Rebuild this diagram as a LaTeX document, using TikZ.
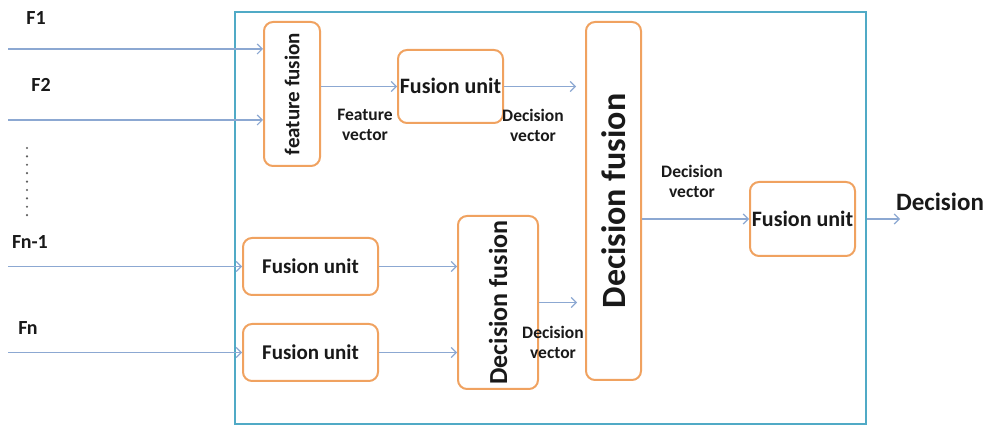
\documentclass[tikz,border=0pt]{standalone}
\usepackage{fontspec}
\setmainfont{Carlito}
\usetikzlibrary{arrows.meta}
\definecolor{boxorange}{RGB}{240,162,96}
\definecolor{frameblue}{RGB}{80,170,198}
\definecolor{linkblue}{RGB}{140,168,210}
\definecolor{ink}{RGB}{25,25,25}
\begin{document}
\begin{tikzpicture}[x=1pt,y=-1pt,
  unit/.style={draw=boxorange, line width=2pt, rounded corners=9pt, fill=white,
    text=ink, font=\bfseries\fontsize{22}{24}\selectfont, inner sep=0pt},
  link/.style={draw=linkblue, line width=1.2pt, -{Straight Barb[length=5pt,width=10pt]}},
  tag/.style={text=ink, font=\bfseries\fontsize{17.5}{20}\selectfont, align=center, inner sep=0pt},
  inlabel/.style={text=ink, font=\bfseries\fontsize{20}{22}\selectfont, inner sep=0pt}]
\useasboundingbox (0,0) rectangle (988,427);

% outer frame
\node[draw=frameblue, line width=2.5pt, minimum width=631pt, minimum height=412pt,
  inner sep=0pt] (frame) at (550.5,218) {};

% processing blocks
\node[unit, minimum width=56pt, minimum height=144pt] (ff) at (292,94)
  {\rotatebox{90}{\fontsize{21}{23}\selectfont feature fusion}};
\node[unit, minimum width=105pt, minimum height=73pt] (fu1) at (450.5,86.5)
  {\raisebox{2pt}{Fusion unit}};
\node[unit, minimum width=55pt, minimum height=358pt] (bigdf) at (613.5,201)
  {\rotatebox{90}{\fontsize{34}{36}\selectfont Decision fusion}};
\node[unit, minimum width=105pt, minimum height=74pt] (fu4) at (802.5,219) {Fusion unit};
\node[unit, minimum width=135pt, minimum height=57pt, font=\bfseries\fontsize{21}{23}\selectfont]
  (fu2) at (310.5,266.5) {Fusion unit};
\node[unit, minimum width=135pt, minimum height=57pt, font=\bfseries\fontsize{21}{23}\selectfont]
  (fu3) at (310.5,352.5) {Fusion unit};
\node[unit, minimum width=80pt, minimum height=173pt] (sdf) at (498,302.5)
  {\rotatebox{90}{\fontsize{26}{28}\selectfont Decision fusion}};

% inputs
\coordinate (in1) at (8,49);
\coordinate (in2) at (8,120);
\coordinate (in3) at (8,266.5);
\coordinate (in4) at (8,352.5);
\node[inlabel] (l1) at (36,18) {F1};
\node[inlabel] (l2) at (41,85) {F2};
\node[inlabel] (l3) at (30,242) {Fn-1};
\node[inlabel] (l4) at (28,328) {Fn};
\foreach \k in {0,...,8} \fill[ink!70] (27,148+8.4*\k) circle (1.2pt);

\draw[link] (in1) -- (ff.west |- in1);
\draw[link] (in2) -- (ff.west |- in2);
\draw[link] (in3) -- (fu2.west);
\draw[link] (in4) -- (fu3.west);

% connections
\draw[link] (ff.east |- fu1.west) -- (fu1.west);
\draw[link] (fu1.east) -- ([xshift=-9pt]bigdf.west |- fu1.east);
\draw[link] (fu2.east) -- (sdf.west |- fu2.east);
\draw[link] (fu3.east) -- (sdf.west |- fu3.east);
\draw[link] (sdf.east) -- ([xshift=-8pt]bigdf.west |- sdf.east);
\draw[link] (bigdf.east |- fu4.west) -- (fu4.west);
\coordinate (out) at (900,219);
\draw[link] (frame.east |- out) -- (out);

% labels
\node[tag] (t1) at (365,125) {Feature\\vector};
\node[tag] (t2) at (533,125) {Decision\\vector};
\node[tag] (t3) at (692,181) {Decision\\vector};
\node[tag] (t4) at (553,342) {Decision\\vector};
\node[text=ink, font=\bfseries\fontsize{25}{27}\selectfont, inner sep=0pt] (dec) at (940,202) {Decision};
\end{tikzpicture}
\end{document}
